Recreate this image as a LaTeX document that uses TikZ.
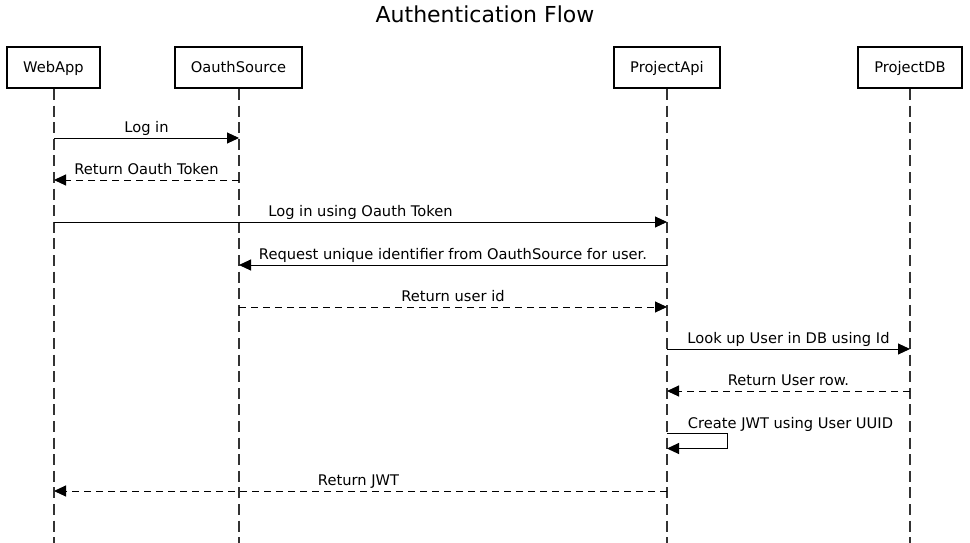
\documentclass[tikz,border=0pt]{standalone}
\usepackage{fontspec}
\setmainfont{DejaVu Sans}
\usetikzlibrary{arrows.meta}
\begin{document}
\begin{tikzpicture}[x=1pt,y=-1pt,
  actor/.style={draw=black,line width=2pt,inner sep=0pt},
  lifeline/.style={draw=black!80,line width=1.3pt,dash pattern=on 11pt off 5.6pt},
  msg/.style={draw=black,line width=1pt,-{Triangle[length=12pt,width=11pt]}},
  ret/.style={msg,dash pattern=on 7pt off 5pt},
  lbl/.style={anchor=base,inner sep=0pt,font=\fontsize{14.65}{17}\selectfont},
  ttl/.style={anchor=base,inner sep=0pt,font=\fontsize{22}{26}\selectfont}]
\useasboundingbox (0,0) rectangle (970,543);
% title
\node[ttl] (title) at (485,23) {Authentication Flow};
% actors
\draw[actor] (7,47) rectangle (100,88);
\draw[actor] (175,47) rectangle (302,88);
\draw[actor] (614,47) rectangle (720,88);
\draw[actor] (858,47) rectangle (962,88);
\node[lbl] (wa) at (53.5,73) {WebApp};
\node[lbl] (oa) at (238.5,73) {OauthSource};
\node[lbl] (pa) at (667,73) {ProjectApi};
\node[lbl] (pd) at (910,73) {ProjectDB};
% lifelines
\coordinate (wat) at (54,89); \coordinate (wab) at (54,543);
\coordinate (oat) at (239,89); \coordinate (oab) at (239,543);
\coordinate (pat) at (667,89); \coordinate (pab) at (667,543);
\coordinate (pdt) at (910,89); \coordinate (pdb) at (910,543);
\draw[lifeline] (wat) -- (wab);
\draw[lifeline] (oat) -- (oab);
\draw[lifeline] (pat) -- (pab);
\draw[lifeline] (pdt) -- (pdb);
% message end points
\coordinate (w1) at (54,138); \coordinate (o1) at (239,138);
\coordinate (w2) at (54,180); \coordinate (o2) at (239,180);
\coordinate (w3) at (54,222); \coordinate (p3) at (667,222);
\coordinate (o4) at (239,265); \coordinate (p4) at (667,265);
\coordinate (o5) at (239,307); \coordinate (p5) at (667,307);
\coordinate (p6) at (667,349); \coordinate (d6) at (910,349);
\coordinate (p7) at (667,391); \coordinate (d7) at (910,391);
\coordinate (p8a) at (667,433); \coordinate (p8b) at (667,448.5);
\coordinate (w9) at (54,491); \coordinate (p9) at (667,491);
% messages
\draw[msg] (w1) -- (o1);
\node[lbl] (l1) at (146.5,132) {Log in};
\draw[ret] (o2) -- (w2);
\node[lbl] (l2) at (146.5,174) {Return Oauth Token};
\draw[msg] (w3) -- (p3);
\node[lbl] (l3) at (360.5,216) {Log in using Oauth Token};
\draw[msg] (p4) -- (o4);
\node[lbl] (l4) at (453,259) {Request unique identifier from OauthSource for user.};
\draw[ret] (o5) -- (p5);
\node[lbl] (l5) at (453,301) {Return user id};
\draw[msg] (p6) -- (d6);
\node[lbl] (l6) at (788.5,343) {Look up User in DB using Id};
\draw[ret] (d7) -- (p7);
\node[lbl] (l7) at (788.5,385) {Return User row.};
\draw[msg] (p8a) -- ++(60.5,0) |- (p8b);
\node[lbl] (l8) at (790.5,428) {Create JWT using User UUID};
\draw[ret] (p9) -- (w9);
\node[lbl] (l9) at (358.5,485) {Return JWT};
\end{tikzpicture}
\end{document}
